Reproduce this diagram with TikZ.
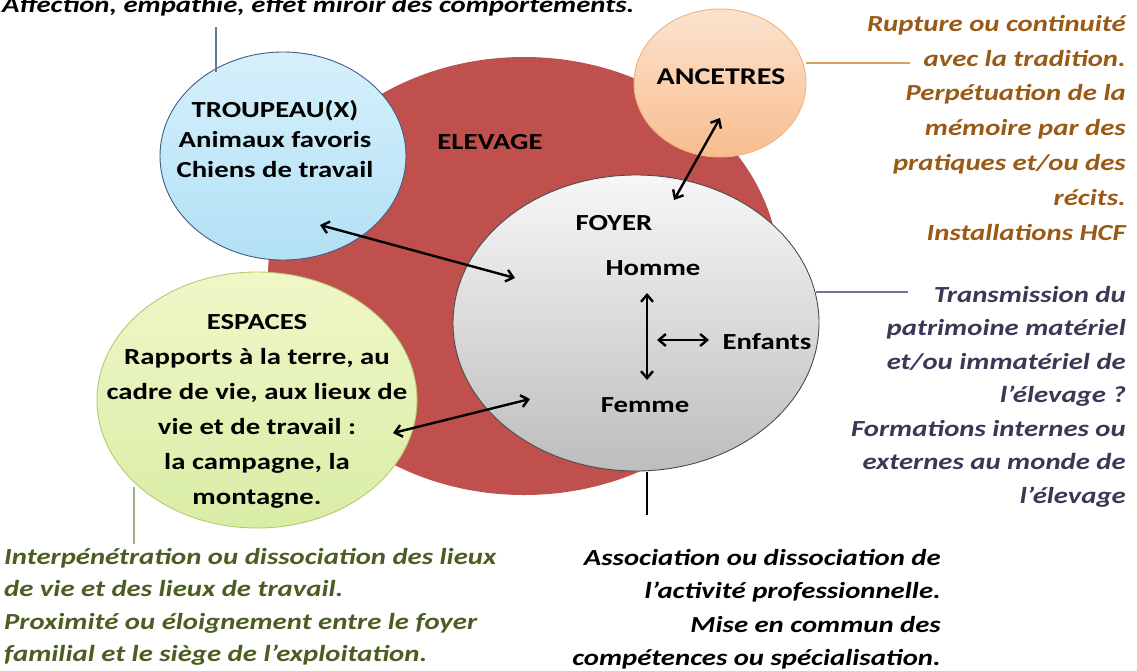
\documentclass[tikz,border=0pt]{standalone}
\usepackage{fontspec}
\setmainfont{Carlito}[FakeStretch=1.25]
\usetikzlibrary{shapes.geometric,arrows.meta}
\definecolor{elred}{HTML}{C0504D}
\definecolor{bluetop}{HTML}{D6F0FB}
\definecolor{bluebot}{HTML}{B2E0F5}
\definecolor{blueline}{HTML}{3E5F85}
\definecolor{greentop}{HTML}{F0F7C8}
\definecolor{greenbot}{HTML}{D9EDA6}
\definecolor{greenline}{HTML}{B3CB6E}
\definecolor{greytop}{HTML}{F7F7F7}
\definecolor{greybot}{HTML}{BDBDBD}
\definecolor{oratop}{HTML}{FCE3CE}
\definecolor{orabot}{HTML}{F8BD8E}
\definecolor{oraline}{HTML}{F0B282}
\definecolor{oratext}{HTML}{9A5A16}
\definecolor{purptext}{HTML}{3F3556}
\definecolor{greentext}{HTML}{4A5E22}
\definecolor{leadblue}{HTML}{5A7AA0}
\definecolor{leadora}{HTML}{D9A066}
\definecolor{leadpurp}{HTML}{7D6F98}
\definecolor{leadgreen}{HTML}{A3AA8C}
\tikzset{
  circ/.style={ellipse, inner sep=0pt, line width=0.9pt},
  ctext/.style={font=\fontsize{23}{33}\selectfont\bfseries, align=center, inner sep=0pt, text=black},
  ann/.style={font=\fontsize{23}{33}\selectfont\bfseries\itshape, inner sep=0pt},
  biarrow/.style={line width=2.4pt, {Straight Barb[length=7pt,width=12pt]}-{Straight Barb[length=7pt,width=12pt]}},
  lead/.style={line width=2.6pt}
}
\begin{document}
\begin{tikzpicture}[x=1pt,y=-1pt]
\useasboundingbox (0,0) rectangle (1137,670);
\fill[white] (0,0) rectangle (1137,670);

% big red disc
\node[circ, fill=elred, minimum width=512pt, minimum height=438pt] (elevage) at (524,276) {};

% satellites
\node[circ, draw=blueline, top color=bluetop, bottom color=bluebot, minimum width=246pt, minimum height=208pt] (troupeau) at (283,156) {};
\node[circ, draw=greenline, top color=greentop, bottom color=greenbot, minimum width=320pt, minimum height=256pt] (espaces) at (257,400) {};
\node[circ, draw=black!70, top color=greytop, bottom color=greybot, minimum width=366pt, minimum height=296pt] (foyer) at (636,323) {};
\node[circ, draw=oraline, top color=oratop, bottom color=orabot, minimum width=172pt, minimum height=148pt] (ancetres) at (720,83) {};

% texts in circles
\node[ctext, font=\fontsize{23}{30}\selectfont\bfseries] (ttroup) at (275,139) {TROUPEAU(X)\\Animaux favoris\\Chiens de travail};
\node[ctext] (televage) at (490,142) {ELEVAGE};
\node[ctext, font=\fontsize{23}{35}\selectfont\bfseries] (tesp) at (257,411) {ESPACES\\Rapports à la terre, au\\cadre de vie, aux lieux de\\vie et de travail :\\la campagne, la\\montagne.};
\node[ctext] (tfoyer) at (614,223) {FOYER};
\node[ctext] (thomme) at (653,268) {Homme};
\node[ctext] (tfemme) at (645,405) {Femme};
\node[ctext] (tenfants) at (767,342) {Enfants};
\node[ctext, font=\fontsize{24}{30}\selectfont\bfseries] (tanc) at (721,77) {ANCETRES};

% arrows
\coordinate (aT) at (320,225); \coordinate (aF1) at (515,278);
\coordinate (aA) at (720,118); \coordinate (aF2) at (674,200);
\coordinate (aE) at (393,433); \coordinate (aF3) at (530,399);
\coordinate (aH) at (647,293); \coordinate (aW) at (647,380);
\coordinate (aC1) at (657,340); \coordinate (aC2) at (709,340);
\draw[biarrow] (aT) -- (aF1);
\draw[biarrow] (aA) -- (aF2);
\draw[biarrow] (aE) -- (aF3);
\draw[biarrow] (aH) -- (aW);
\draw[biarrow] (aC1) -- (aC2);

% annotations
\node[ann, anchor=base west] (ntop) at (2,12) {Affection, empathie, effet miroir des comportements.};
\node[ann, text=oratext, align=right, anchor=north east, font=\fontsize{23}{34.8}\selectfont\bfseries\itshape] (nanc) at (1126,15) {Rupture ou continuité\\avec la tradition.\\Perpétuation de la\\mémoire par des\\pratiques et/ou des\\récits.\\Installations HCF};
\node[ann, text=purptext, align=right, anchor=north east, font=\fontsize{23}{33.5}\selectfont\bfseries\itshape] (nfoy) at (1126,286) {Transmission du\\patrimoine matériel\\et/ou immatériel de\\l’élevage ?\\Formations internes ou\\externes au monde de\\l’élevage};
\node[ann, text=black, align=right, anchor=north east, font=\fontsize{23}{33.5}\selectfont\bfseries\itshape] (nbot) at (941,549) {Association ou dissociation de\\l’activité professionnelle.\\Mise en commun des\\compétences ou spécialisation.};
\node[ann, text=greentext, align=left, anchor=north west, font=\fontsize{23}{32.5}\selectfont\bfseries\itshape] (nesp) at (4,548) {Interpénétration ou dissociation des lieux\\de vie et des lieux de travail.\\Proximité ou éloignement entre le foyer\\familial et le siège de l’exploitation.};

% leader lines
\coordinate (lB1) at (216,27); \coordinate (lB2) at (216,72);
\coordinate (lO1) at (806,63); \coordinate (lO2) at (910,63);
\coordinate (lP1) at (816,292); \coordinate (lP2) at (908,292);
\coordinate (lK1) at (647,472); \coordinate (lK2) at (647,515);
\coordinate (lG1) at (134,487); \coordinate (lG2) at (134,544);
\draw[lead, leadblue] (lB1) -- (lB2);
\draw[lead, leadora] (lO1) -- (lO2);
\draw[lead, leadpurp] (lP1) -- (lP2);
\draw[lead, black] (lK1) -- (lK2);
\draw[lead, leadgreen] (lG1) -- (lG2);
\end{tikzpicture}
\end{document}
